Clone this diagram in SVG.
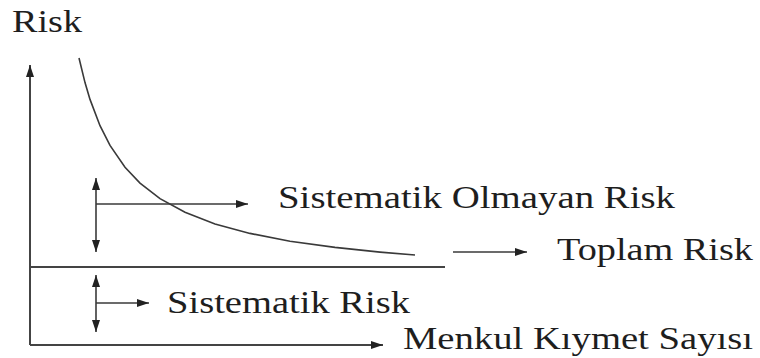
<svg xmlns="http://www.w3.org/2000/svg" width="760" height="358" viewBox="0 0 760 358">
<style>
.ln{stroke:#3a3a3a;stroke-width:1.6;fill:none}
.ax{stroke:#444;stroke-width:2;fill:none}
.t{font-family:"Liberation Serif","DejaVu Serif",serif;font-size:31px;fill:#1e1e1e}
</style>
<defs>
<marker id="ah" viewBox="0 0 12 8" refX="12" refY="4" markerWidth="12" markerHeight="8" markerUnits="userSpaceOnUse" orient="auto-start-reverse">
<path d="M0,0 L12,4 L0,8 Z" fill="#222"/>
</marker>
</defs>
<g id="connectors">
<line class="ax" x1="30" y1="345" x2="30" y2="65" marker-end="url(#ah)"/>
<line class="ax" x1="30" y1="345" x2="383" y2="345" marker-end="url(#ah)"/>
<line class="ax" x1="30" y1="267" x2="445" y2="267"/>
<path class="ln" d="M79,58 L85,82.6 L90,99.4 L100,125.7 L110,145.4 L125,167.3 L140,183.1 L160,198.6 L185,212.3 L215,223.9 L250,233.4 L290,241.2 L335,247.4 L380,252.1 L415,255"/>
<line class="ln" x1="96" y1="178" x2="96" y2="252" marker-start="url(#ah)" marker-end="url(#ah)"/>
<line class="ln" x1="96" y1="204" x2="248" y2="204" marker-end="url(#ah)"/>
<line class="ln" x1="96" y1="275" x2="96" y2="332" marker-start="url(#ah)" marker-end="url(#ah)"/>
<line class="ln" x1="96" y1="303" x2="149" y2="303" marker-end="url(#ah)"/>
<line class="ln" x1="453" y1="252" x2="527" y2="252" marker-end="url(#ah)"/>
</g>
<g id="label-risk-axis"><text class="t" x="12" y="32" textLength="70" lengthAdjust="spacingAndGlyphs">Risk</text></g>
<g id="label-sistematik-olmayan"><text class="t" x="278" y="208" textLength="397" lengthAdjust="spacingAndGlyphs">Sistematik Olmayan Risk</text></g>
<g id="label-toplam"><text class="t" x="557" y="260" textLength="196" lengthAdjust="spacingAndGlyphs">Toplam Risk</text></g>
<g id="label-sistematik"><text class="t" x="167" y="313" textLength="243" lengthAdjust="spacingAndGlyphs">Sistematik Risk</text></g>
<g id="label-menkul"><text class="t" x="403" y="349" textLength="350" lengthAdjust="spacingAndGlyphs">Menkul Kıymet Sayısı</text></g>
</svg>
